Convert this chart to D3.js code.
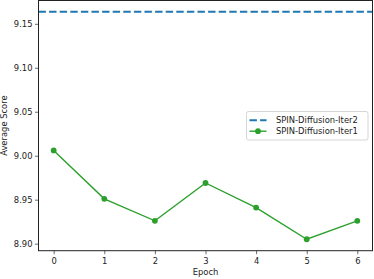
<!DOCTYPE html>
<html>
<head>
<meta charset="utf-8">
<script src="https://cdn.jsdelivr.net/npm/d3@7"></script>
<style>
  body { margin: 0; background: #fff; }
  svg { display: block; font-family: "DejaVu Sans", sans-serif; }
</style>
</head>
<body>
<div id="chart"></div>
<script>
//          Chart data
var epochs = [0, 1, 2, 3, 4, 5, 6];
var iter1Scores = [9.006, 8.951, 8.926, 8.969, 8.941, 8.905, 8.926];
var iter2Score = 9.1636;
var yTicks = [8.90, 8.95, 9.00, 9.05, 9.10, 9.15];
var seriesNames = ["SPIN-Diffusion-Iter2", "SPIN-Diffusion-Iter1"];

//          Chart settings
var w = 374, h = 279;
var plotLeft = 38.5, plotRight = 372.5, plotTop = 0.5, plotBottom = 250.7;
var fontSize = "8.4px";
var blue = "#1f77b4", green = "#2ca02c";

var svg = d3.select("#chart").append("svg")
    .attr("width", w)
    .attr("height", h);

var x = d3.scaleLinear().domain([-0.3, 6.3]).range([plotLeft, plotRight]);
var y = d3.scaleLinear().domain([8.892, 9.1765]).range([plotBottom, plotTop]);

var plot = svg.append("g");

//          Dashed reference line
plot.append("line")
    .attr("x1", plotLeft).attr("x2", plotRight)
    .attr("y1", y(iter2Score)).attr("y2", y(iter2Score))
    .style("stroke", blue)
    .style("stroke-width", 2)
    .style("stroke-dasharray", "7.4,3.2");

//          Iter1 line + markers
var line = d3.line()
    .x(function(d, i) { return x(epochs[i]); })
    .y(function(d) { return y(d); });

plot.append("path")
    .datum(iter1Scores)
    .attr("d", line)
    .style("fill", "none")
    .style("stroke", green)
    .style("stroke-width", 1.4);

plot.selectAll("circle").data(iter1Scores).enter().append("circle")
    .attr("cx", function(d, i) { return x(epochs[i]); })
    .attr("cy", function(d) { return y(d); })
    .attr("r", 2.9)
    .style("fill", green);

//          Axes
var xAxis = d3.axisBottom(x).tickValues(epochs).tickSize(3.5).tickPadding(4).tickFormat(d3.format("d"));
var yAxis = d3.axisLeft(y).tickValues(yTicks).tickSize(3.5).tickPadding(2.5).tickFormat(d3.format(".2f"));

var gx = svg.append("g").attr("transform", "translate(0," + plotBottom + ")").call(xAxis);
var gy = svg.append("g").attr("transform", "translate(" + plotLeft + ",0)").call(yAxis);

[gx, gy].forEach(function(g) {
    g.select(".domain").remove();
    g.selectAll("text").style("font-size", fontSize).style("fill", "#222").style("font-family", "DejaVu Sans");
    g.selectAll("line").style("stroke", "#444").style("stroke-width", 0.8);
});

//          Frame
svg.append("rect")
    .attr("x", plotLeft).attr("y", plotTop)
    .attr("width", plotRight - plotLeft).attr("height", plotBottom - plotTop)
    .style("fill", "none")
    .style("stroke", "#222")
    .style("stroke-width", 1);

//          Axis labels
svg.append("text")
    .text("Epoch")
    .attr("x", (plotLeft + plotRight) / 2)
    .attr("y", 274.5)
    .attr("text-anchor", "middle")
    .style("font-size", fontSize)
    .style("fill", "#222");

svg.append("text")
    .text("Average Score")
    .attr("transform", "translate(7.3," + ((plotTop + plotBottom) / 2) + ") rotate(-90)")
    .attr("text-anchor", "middle")
    .style("font-size", fontSize)
    .style("fill", "#222");

//          Legend
var legend = svg.append("g").attr("transform", "translate(246.5,111.5)");
legend.append("rect")
    .attr("width", 121.5).attr("height", 28.5)
    .attr("rx", 2)
    .style("fill", "white")
    .style("fill-opacity", 0.8)
    .style("stroke", "#ccc")
    .style("stroke-width", 0.8);

var rows = legend.selectAll("g.row").data(seriesNames).enter().append("g")
    .attr("class", "row")
    .attr("transform", function(d, i) { return "translate(0," + (8.7 + i * 11) + ")"; });

rows.append("line")
    .attr("x1", 3).attr("x2", 20)
    .attr("y1", 0).attr("y2", 0)
    .style("stroke", function(d, i) { return i === 0 ? blue : green; })
    .style("stroke-width", function(d, i) { return i === 0 ? 2 : 1.4; })
    .style("stroke-dasharray", function(d, i) { return i === 0 ? "7.4,3.2" : null; });

rows.filter(function(d, i) { return i === 1; }).append("circle")
    .attr("cx", 11.5).attr("cy", 0).attr("r", 2.9)
    .style("fill", green);

rows.append("text")
    .text(function(d) { return d; })
    .attr("x", 29.5)
    .attr("y", 3)
    .style("font-size", fontSize)
    .style("fill", "#222");
</script>
</body>
</html>
